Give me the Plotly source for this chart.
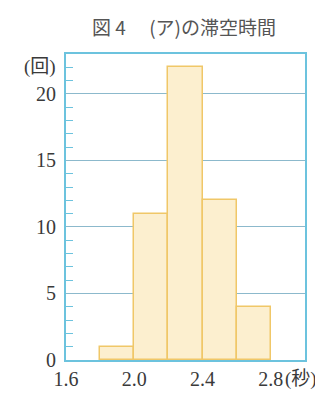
import plotly.graph_objects as go

# class bins (seconds) and counts
bin_left = [1.8, 2.0, 2.2, 2.4, 2.6]
bin_width = 0.2
counts = [1, 11, 22, 12, 4]

x_ticks = [1.6, 2.0, 2.4, 2.8]
x_tick_text = ["1.6", "2.0", "2.4", "2.8"]
y_ticks = [0, 5, 10, 15, 20]

title = "図 4　 (ア)の滞空時間"
serif = "Liberation Serif, DejaVu Serif, Noto Sans CJK JP"
gothic = "Noto Sans CJK JP, sans-serif"
axis_blue = "#6cc3de"
grid_blue = "#8cb9cc"

centers = [b + bin_width / 2 for b in bin_left]

fig = go.Figure(
    go.Bar(
        x=centers,
        y=counts,
        width=bin_width,
        marker=dict(color="#fcefcf", line=dict(color="#f0c768", width=1.5)),
        hoverinfo="skip",
    )
)

fig.update_layout(
    width=323,
    height=394,
    margin=dict(l=58, r=26, t=46, b=32),
    paper_bgcolor="white",
    plot_bgcolor="white",
    showlegend=False,
    bargap=0,
    title=dict(
        text=title,
        x=0.545,
        xanchor="center",
        y=0.948,
        yanchor="middle",
        font=dict(family=gothic, size=19, color="#555555"),
    ),
    font=dict(family=serif, size=20, color="#3a3a3a"),
)

fig.update_xaxes(
    range=[1.6, 3.0],
    tickvals=x_ticks,
    ticktext=x_tick_text,
    showgrid=False,
    zeroline=False,
    showline=True,
    linecolor=axis_blue,
    linewidth=2,
    mirror=True,
    ticks="",
    tickfont=dict(family=serif, size=20, color="#3a3a3a"),
)

fig.update_yaxes(
    range=[0, 23],
    tickvals=y_ticks,
    showgrid=True,
    gridcolor=grid_blue,
    gridwidth=1,
    zeroline=False,
    showline=True,
    linecolor=axis_blue,
    linewidth=2,
    mirror=True,
    ticks="",
    ticklabelstandoff=4,
    tickfont=dict(family=serif, size=20, color="#3a3a3a"),
    minor=dict(
        tickvals=[v for v in range(1, 23) if v % 5 != 0],
        ticks="inside",
        ticklen=7,
        tickcolor=axis_blue,
        tickwidth=1,
        showgrid=False,
    ),
)

fig.add_annotation(
    text="(回)",
    xref="paper",
    yref="paper",
    x=-0.035,
    y=1.0,
    xanchor="right",
    yanchor="top",
    showarrow=False,
    font=dict(family=serif, size=19, color="#3a3a3a"),
)

fig.add_annotation(
    text="(秒)",
    xref="x",
    yref="paper",
    x=2.8,
    y=0,
    xshift=12,
    yshift=-6,
    xanchor="left",
    yanchor="top",
    showarrow=False,
    font=dict(family=serif, size=19, color="#3a3a3a"),
)

fig.write_html("out.html")
